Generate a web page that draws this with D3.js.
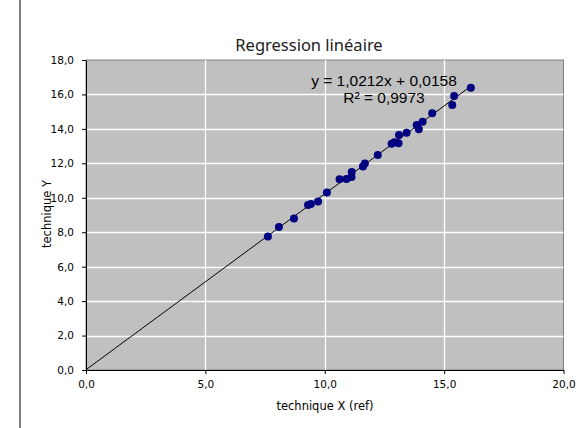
<!DOCTYPE html>
<html>
<head>
<meta charset="utf-8">
<script src="https://cdn.jsdelivr.net/npm/d3@7"></script>
<style>
  body { margin: 0; background: #fff; }
  svg { display: block; }
</style>
</head>
<body>
<div id="graph"></div>
<script>
// measured pairs, technique X (ref) vs technique Y
var xValues = [7.62, 8.08, 8.71, 9.30, 9.42, 9.72, 10.09, 10.62, 10.91, 11.12, 11.13, 11.60, 11.68,
               12.22, 12.80, 12.92, 13.09, 13.11, 13.43, 13.85, 13.94, 14.10, 14.50, 15.34, 15.42, 16.12]
var yValues = [7.75, 8.30, 8.80, 9.58, 9.64, 9.79, 10.30, 11.07, 11.09, 11.21, 11.50, 11.82, 11.99,
               12.49, 13.14, 13.22, 13.16, 13.65, 13.78, 14.23, 13.98, 14.42, 14.91, 15.39, 15.91, 16.39]

// trend line as printed on the chart
var slope = 1.0212
var intercept = 0.0158
var r2 = 0.9973

var xTicks = [0, 5, 10, 15, 20]
var yTicks = [0, 2, 4, 6, 8, 10, 12, 14, 16, 18]

var W = 584, H = 428
// plot area edges (don't call it "top", that's window.top)
var pL = 86, pR = 563.5, pT = 60, pB = 370

var fmt = function (v) { return v.toFixed(1).replace(".", ",") }

var x = d3.scaleLinear().domain([0, 20]).range([pL, pR])
var y = d3.scaleLinear().domain([0, 18]).range([pB, pT])

var svg = d3.select("#graph").append("svg")
    .attr("width", W)
    .attr("height", H)

// gray frame line on the left of the sheet
svg.append("line")
    .attr("x1", 20).attr("x2", 20)
    .attr("y1", 0).attr("y2", H)
    .attr("stroke", "#7f7f7f")
    .attr("stroke-width", 2)

// plot background
svg.append("rect")
    .attr("x", pL).attr("y", pT)
    .attr("width", pR - pL).attr("height", pB - pT)
    .attr("fill", "#c0c0c0")
    .attr("stroke", "#808080")
    .attr("stroke-width", 1)

// grid
svg.append("g").selectAll("line")
    .data(yTicks.filter(function (d) { return d > 0 && d < 18 }))
    .enter().append("line")
    .attr("x1", pL).attr("x2", pR)
    .attr("y1", function (d) { return Math.round(y(d)) + 0.5 })
    .attr("y2", function (d) { return Math.round(y(d)) + 0.5 })
    .attr("stroke", "#fff")
    .attr("stroke-width", 1.3)

svg.append("g").selectAll("line")
    .data(xTicks.filter(function (d) { return d > 0 && d < 20 }))
    .enter().append("line")
    .attr("y1", pT).attr("y2", pB)
    .attr("x1", function (d) { return Math.round(x(d)) + 0.5 })
    .attr("x2", function (d) { return Math.round(x(d)) + 0.5 })
    .attr("stroke", "#fff")
    .attr("stroke-width", 1.3)

// axes
var xAxis = svg.append("g")
    .attr("transform", "translate(0," + pB + ")")
    .call(d3.axisBottom(x).tickValues(xTicks).tickFormat(fmt).tickSizeOuter(0).tickSizeInner(4))
var yAxis = svg.append("g")
    .attr("transform", "translate(" + pL + ",0)")
    .call(d3.axisLeft(y).tickValues(yTicks).tickFormat(fmt).tickSizeOuter(0).tickSizeInner(4))

;[xAxis, yAxis].forEach(function (a) {
    a.selectAll("path, line").attr("stroke", "#000")
    a.selectAll("text")
        .attr("fill", "#000")
        .style("font-family", "DejaVu Sans, Verdana, sans-serif")
        .style("font-size", "10.5px")
})
xAxis.selectAll("text").attr("dy", "1.05em")
yAxis.selectAll("text").attr("x", -12)

// regression line
var xMax = d3.max(xValues)
svg.append("line")
    .attr("x1", x(0)).attr("y1", y(intercept))
    .attr("x2", x(xMax)).attr("y2", y(slope * xMax + intercept))
    .attr("stroke", "#000")
    .attr("stroke-width", 1)

// points
svg.append("g").selectAll("circle")
    .data(xValues)
    .enter().append("circle")
    .attr("cx", function (d) { return x(d) })
    .attr("cy", function (d, i) { return y(yValues[i]) })
    .attr("r", 4)
    .attr("fill", "#000080")

// equation
var eq = svg.append("text")
    .attr("text-anchor", "middle")
    .style("font-family", "Liberation Sans, Arial, sans-serif")
    .style("font-size", "15.5px")
    .attr("fill", "#000")
eq.append("tspan").attr("x", 384).attr("y", 86)
    .text("y = " + slope.toFixed(4).replace(".", ",") + "x + " + intercept.toFixed(4).replace(".", ","))
eq.append("tspan").attr("x", 384).attr("y", 103)
    .text("R² = " + r2.toFixed(4).replace(".", ","))

// titles
svg.append("text")
    .attr("x", 309).attr("y", 51)
    .attr("text-anchor", "middle")
    .attr("fill", "#222")
    .style("font-family", "Noto Sans, Open Sans, sans-serif")
    .style("font-size", "16.5px")
    .text("Regression linéaire")

svg.append("text")
    .attr("x", 325).attr("y", 410)
    .attr("text-anchor", "middle")
    .style("font-family", "DejaVu Sans, Verdana, sans-serif")
    .style("font-size", "11.5px")
    .text("technique X (ref)")

svg.append("text")
    .attr("transform", "translate(51,214) rotate(-90)")
    .attr("text-anchor", "middle")
    .style("font-family", "DejaVu Sans, Verdana, sans-serif")
    .style("font-size", "11.5px")
    .text("technique Y")
</script>
</body>
</html>
